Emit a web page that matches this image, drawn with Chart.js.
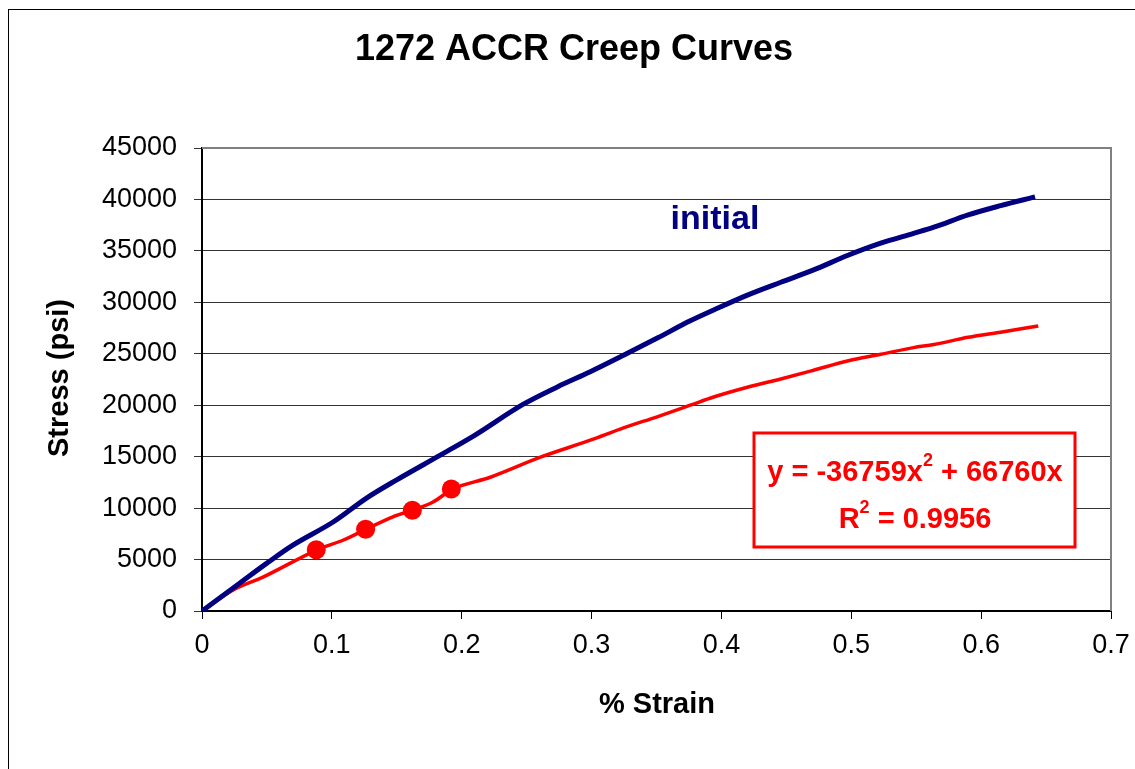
<!DOCTYPE html>
<html>
<head>
<meta charset="utf-8">
<script src="https://cdn.jsdelivr.net/npm/chart.js@4.4.0/dist/chart.umd.min.js"></script>
<style>
  body { margin: 0; background: #fff; }
  #wrap { width: 1135px; height: 769px; position: relative; }
</style>
</head>
<body>
<div id="wrap"><canvas id="chart"></canvas></div>
<script>
// initial curve (blue)
const initialStrain = [0, 0.029, 0.050, 0.070, 0.101, 0.127, 0.150, 0.1835, 0.209, 0.2475, 0.274, 0.299, 0.3246, 0.351, 0.376, 0.394, 0.420, 0.4457, 0.471, 0.497, 0.5227, 0.548, 0.5636, 0.590, 0.615, 0.6415];
const initialStress = [0, 2700, 4650, 6400, 8650, 11000, 12750, 15150, 17000, 20100, 21800, 23250, 24850, 26550, 28200, 29250, 30700, 31950, 33150, 34550, 35750, 36700, 37300, 38500, 39400, 40250];

// creep curve (red)
const creepStrain = [0, 0.024, 0.047, 0.0887, 0.109, 0.1264, 0.147, 0.162, 0.178, 0.193, 0.222, 0.2606, 0.299, 0.3246, 0.351, 0.376, 0.394, 0.420, 0.4457, 0.471, 0.497, 0.5227, 0.548, 0.5636, 0.590, 0.615, 0.644];
const creepStress = [0, 2050, 3300, 5950, 6900, 7950, 9150, 9800, 10600, 11850, 13000, 14950, 16600, 17800, 18900, 20000, 20800, 21750, 22550, 23400, 24300, 24950, 25600, 25900, 26600, 27100, 27700];

// creep test points
const markerStrain = [0.088, 0.126, 0.162, 0.192];
const markerStress = [5950, 7950, 9800, 11850];

const xTicks = [0, 0.1, 0.2, 0.3, 0.4, 0.5, 0.6, 0.7];
const yTicks = [0, 5000, 10000, 15000, 20000, 25000, 30000, 35000, 40000, 45000];

const toPoints = (xs, ys) => xs.map((x, i) => ({ x: x, y: ys[i] }));

const FONT = 'Arial, "Liberation Sans", sans-serif';

const extras = {
  id: 'extras',
  beforeDatasetsDraw(chart) {
    const { ctx, chartArea: a } = chart;
    ctx.save();
    // plot area border (grey)
    ctx.strokeStyle = '#808080';
    ctx.lineWidth = 2;
    ctx.beginPath();
    ctx.moveTo(a.left, a.top);
    ctx.lineTo(a.right, a.top);
    ctx.lineTo(a.right, a.bottom);
    ctx.stroke();
    ctx.restore();
  },
  afterDraw(chart) {
    const { ctx } = chart;
    ctx.save();
    // outer chart frame
    ctx.strokeStyle = '#000';
    ctx.lineWidth = 1;
    ctx.strokeRect(8.5, 9.5, 1200, 800);

    ctx.fillStyle = '#000';
    ctx.textAlign = 'center';
    ctx.textBaseline = 'middle';
    ctx.font = 'bold 36px ' + FONT;
    ctx.fillText('1272 ACCR Creep Curves', 574, 50);

    ctx.font = 'bold 29px ' + FONT;
    ctx.fillText('% Strain', 657, 705);

    ctx.save();
    ctx.translate(60, 378);
    ctx.rotate(-Math.PI / 2);
    ctx.fillText('Stress (psi)', 0, 0);
    ctx.restore();

    // label for the initial curve
    ctx.fillStyle = '#000080';
    ctx.font = 'bold 34px ' + FONT;
    ctx.fillText('initial', 715, 220);

    // trendline equation box
    ctx.fillStyle = '#fff';
    ctx.fillRect(754, 433, 321, 114);
    ctx.strokeStyle = '#ff0000';
    ctx.lineWidth = 3;
    ctx.strokeRect(754, 433, 321, 114);

    ctx.fillStyle = '#ff0000';
    const big = 'bold 29px ' + FONT;
    const small = 'bold 18px ' + FONT;
    const drawParts = (parts, cx, cy) => {
      let w = 0;
      parts.forEach(p => { ctx.font = p.sup ? small : big; w += ctx.measureText(p.t).width; });
      let x = cx - w / 2;
      ctx.textAlign = 'left';
      parts.forEach(p => {
        ctx.font = p.sup ? small : big;
        ctx.fillText(p.t, x, p.sup ? cy - 12 : cy);
        x += ctx.measureText(p.t).width;
      });
    };
    drawParts([{ t: 'y = -36759x' }, { t: '2', sup: true }, { t: ' + 66760x' }], 915, 473);
    drawParts([{ t: 'R' }, { t: '2', sup: true }, { t: ' = 0.9956' }], 915, 520);
    ctx.restore();
  }
};

new Chart(document.getElementById('chart'), {
  type: 'scatter',
  data: {
    datasets: [
      {
        label: 'initial',
        data: toPoints(initialStrain, initialStress),
        showLine: true,
        borderColor: '#000080',
        borderWidth: 5,
        pointRadius: 0,
        cubicInterpolationMode: 'monotone',
        fill: false
      },
      {
        label: 'creep',
        data: toPoints(creepStrain, creepStress),
        showLine: true,
        borderColor: '#ff0000',
        borderWidth: 3.5,
        pointRadius: 0,
        cubicInterpolationMode: 'monotone',
        fill: false
      },
      {
        label: 'points',
        data: toPoints(markerStrain, markerStress),
        showLine: false,
        backgroundColor: '#ff0000',
        borderColor: '#ff0000',
        pointRadius: 9.5,
        pointBorderWidth: 0
      }
    ]
  },
  options: {
    responsive: true,
    maintainAspectRatio: false,
    animation: false,
    layout: { padding: { left: 0, top: 148, right: 24, bottom: 0 } },
    plugins: {
      legend: { display: false },
      tooltip: { enabled: false }
    },
    scales: {
      x: {
        type: 'linear',
        min: 0,
        max: 0.7,
        afterFit: s => { s.height = 158; s.paddingLeft = 0; s.paddingRight = 0; },
        afterBuildTicks: s => { s.ticks = xTicks.map(v => ({ value: v })); },
        ticks: {
          color: '#000',
          font: { family: FONT, size: 27 },
          padding: 10,
          maxRotation: 0,
          callback: v => String(+v.toFixed(1))
        },
        grid: { drawOnChartArea: false, drawTicks: true, tickLength: 8, color: '#000' },
        border: { color: '#000', width: 2 }
      },
      y: {
        min: 0,
        max: 45000,
        afterFit: s => { s.width = 202; s.paddingTop = 0; s.paddingBottom = 0; },
        afterBuildTicks: s => { s.ticks = yTicks.map(v => ({ value: v })); },
        ticks: {
          color: '#000',
          font: { family: FONT, size: 27 },
          padding: 17,
          callback: v => String(v)
        },
        grid: { color: '#333', lineWidth: 1, tickLength: 8 },
        border: { color: '#000', width: 2 }
      }
    }
  },
  plugins: [extras]
});
</script>
</body>
</html>
